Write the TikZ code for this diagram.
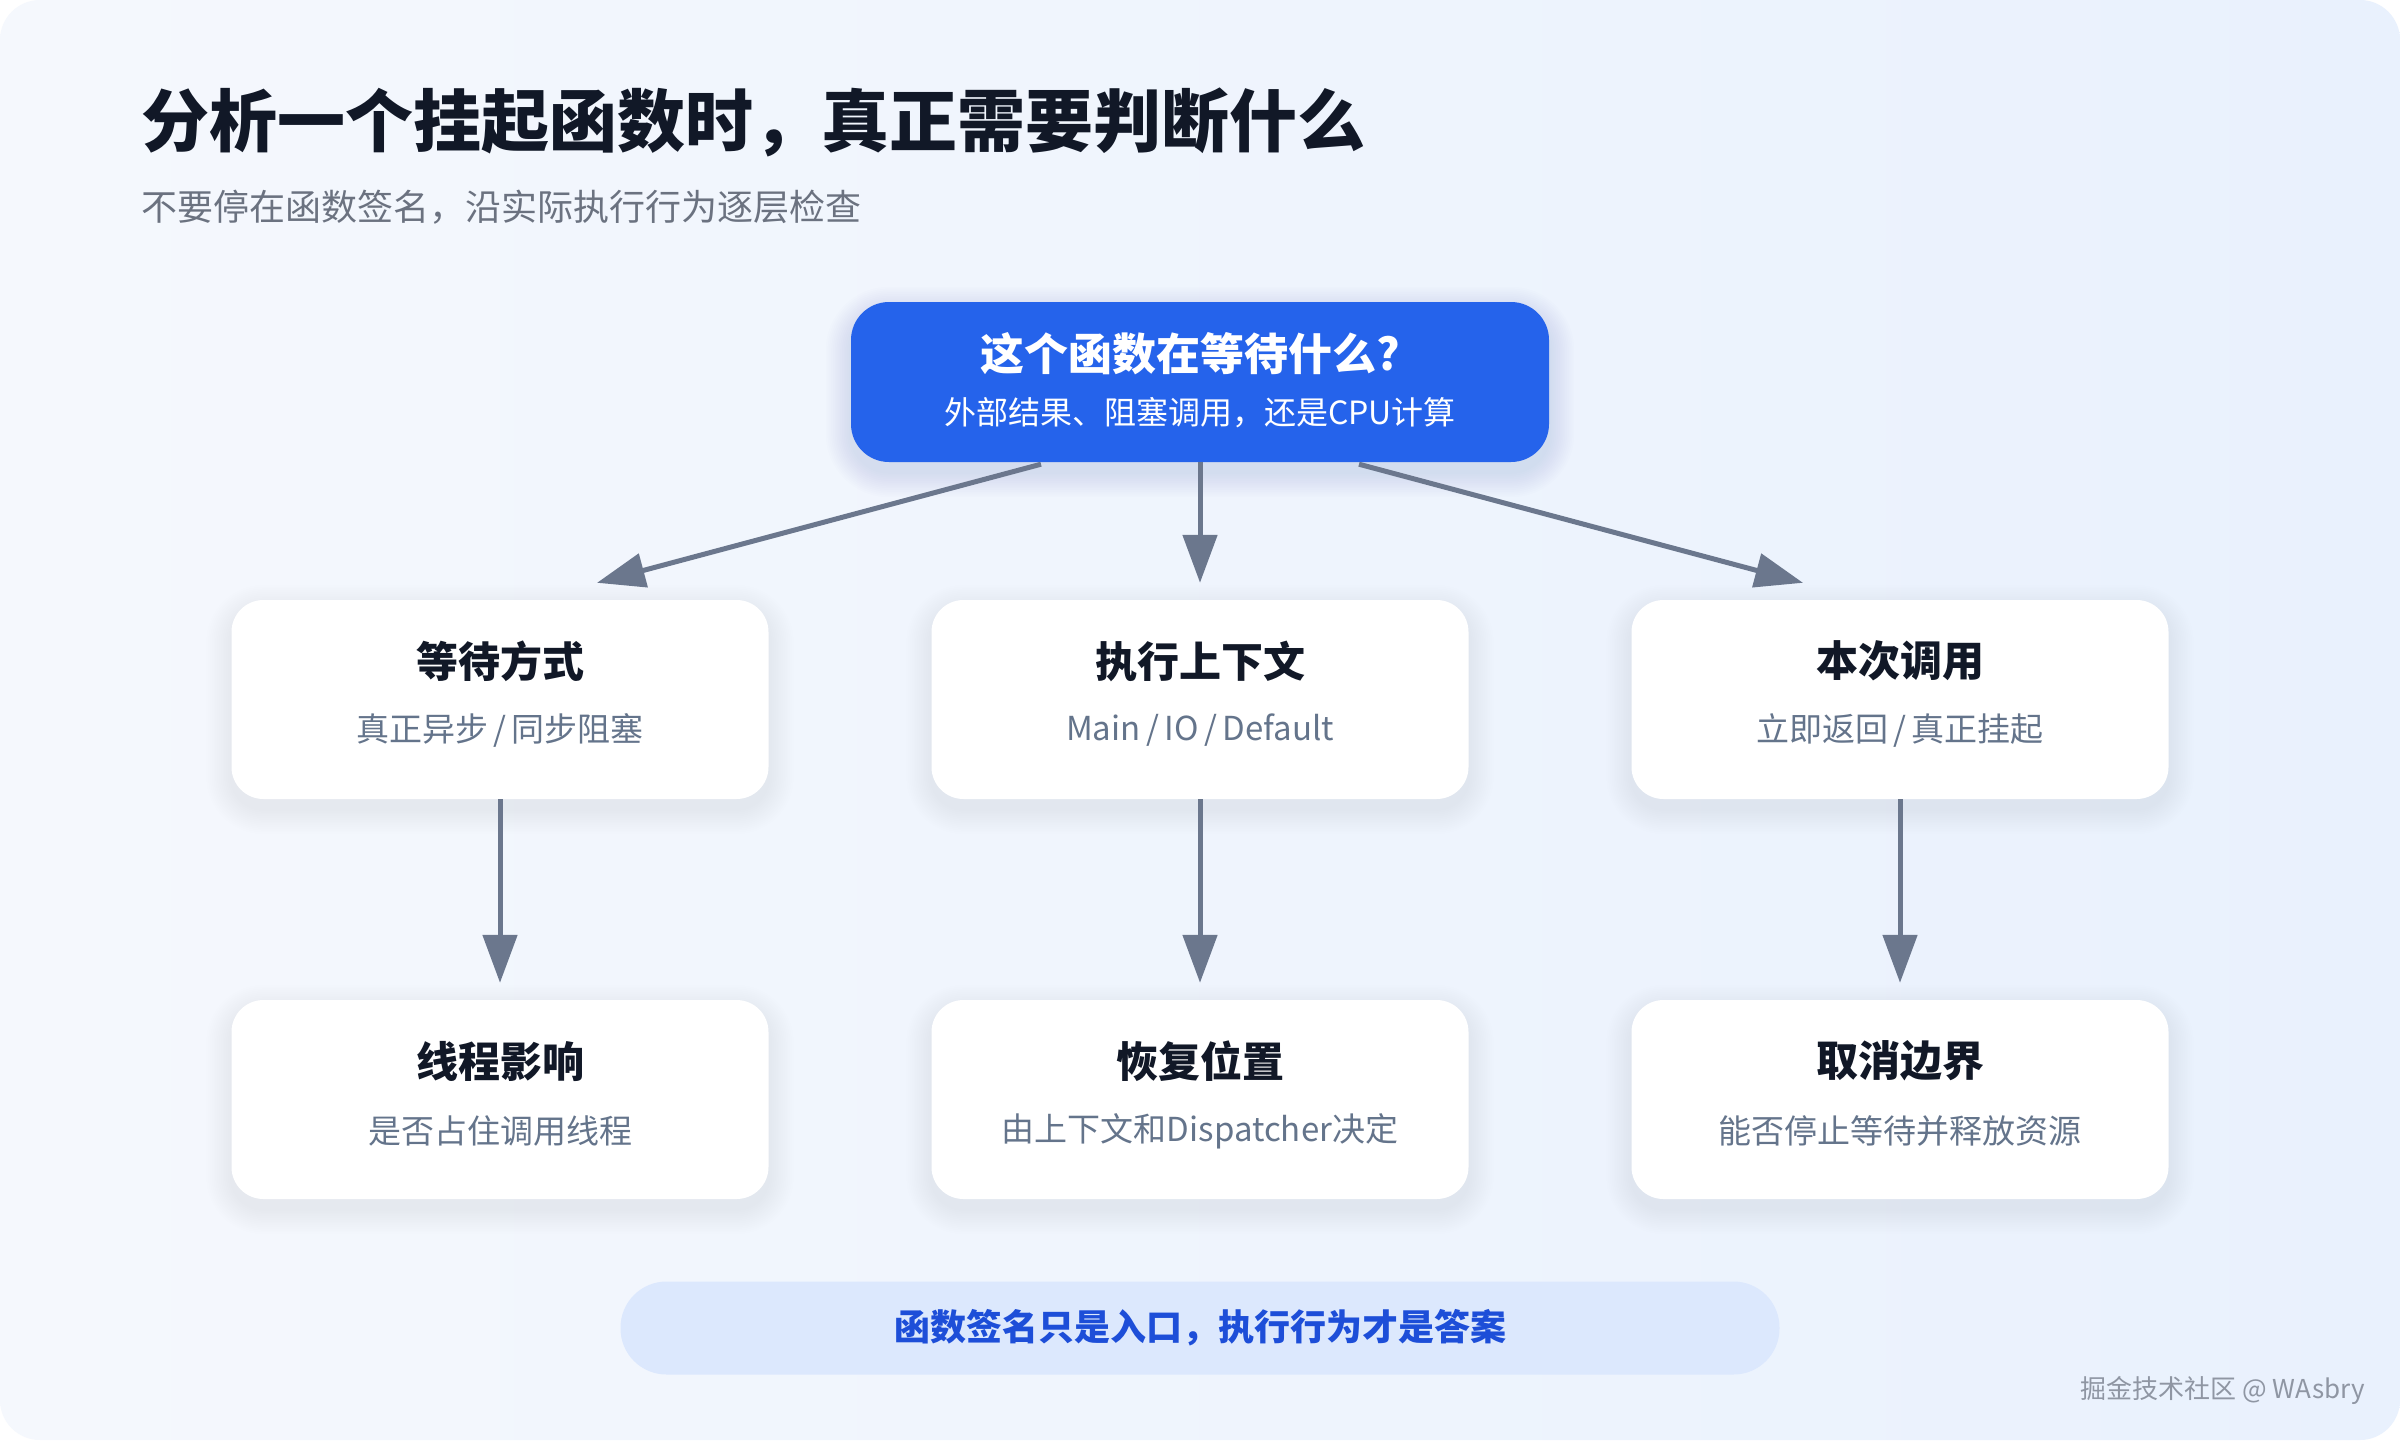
\documentclass[tikz,border=0pt]{standalone}
\usepackage{fontspec}
\setmainfont{Noto Sans CJK SC}
\usetikzlibrary{calc,arrows.meta}
\definecolor{bgA}{HTML}{F5F8FD}
\definecolor{bgB}{HTML}{E9F1FD}
\definecolor{blueMain}{HTML}{2563EB}
\definecolor{titleInk}{HTML}{111827}
\definecolor{subInk}{HTML}{6B7280}
\definecolor{boxSub}{HTML}{64748B}
\definecolor{arrowInk}{HTML}{6B778D}
\definecolor{bannerFill}{HTML}{DCE8FD}
\definecolor{bannerInk}{HTML}{1D4ED8}
\definecolor{markInk}{HTML}{8F96A3}
\definecolor{shadowInk}{HTML}{4A6390}
% soft shadow: centre x, centre y, width, height, radius, opacity per layer
\newcommand\mysoftshadow[6]{%
  \foreach \k in {1,...,14}{%
    \pgfmathsetmacro\rr{#5+\k*1.8}%
    \pgfmathsetmacro\dd{\k*1.8}%
    \fill[shadowInk, opacity=#6, rounded corners=\rr pt]
      ({#1-#3/2-\dd},{#2-#4/2-\dd+10}) rectangle ({#1+#3/2+\dd},{#2+#4/2+\dd+10});
  }}
\begin{document}
\begin{tikzpicture}[x=1pt,y=-1pt,
  card/.style={fill=white, rounded corners=32pt, minimum width=537pt, minimum height=199pt, inner sep=0pt},
  topbox/.style={fill=blueMain, rounded corners=38pt, minimum width=698pt, minimum height=160pt, inner sep=0pt},
  cardtitle/.style={inner sep=0pt, text=titleInk, font=\bfseries\fontsize{42pt}{50pt}\selectfont},
  cardsub/.style={inner sep=0pt, text=boxSub, font=\fontsize{33pt}{38pt}\selectfont},
  flow/.style={draw=arrowInk, line width=5pt, -{Triangle[length=48pt,width=34pt]}},
]
\useasboundingbox (0,0) rectangle (2400,1440);
\fill[white] (0,0) rectangle (2400,1440);
\shade[rounded corners=40pt, left color=bgA, right color=bgB] (0,0) rectangle (2400,1440);

% shadows
\mysoftshadow{1200}{382}{698}{160}{38}{0.009}
\mysoftshadow{500}{699.5}{537}{199}{32}{0.005}
\mysoftshadow{1200}{699.5}{537}{199}{32}{0.005}
\mysoftshadow{1900}{699.5}{537}{199}{32}{0.005}
\mysoftshadow{500}{1099.5}{537}{199}{32}{0.005}
\mysoftshadow{1200}{1099.5}{537}{199}{32}{0.005}
\mysoftshadow{1900}{1099.5}{537}{199}{32}{0.005}

% heading
\node[anchor=west, inner sep=0pt, text=titleInk, font=\bfseries\fontsize{68pt}{80pt}\selectfont] (title) at (141,122) {分析一个挂起函数时，真正需要判断什么};
\node[anchor=west, inner sep=0pt, text=subInk, font=\fontsize{36pt}{42pt}\selectfont] (subtitle) at (141,207) {不要停在函数签名，沿实际执行行为逐层检查};

% top question
\node[topbox] (q) at (1200,382) {};
\node[inner sep=0pt, text=white, font=\bfseries\fontsize{44pt}{52pt}\selectfont] (qt) at (1190,354) {这个函数在等待什么?};
\node[inner sep=0pt, text=white, font=\fontsize{32pt}{38pt}\selectfont] (qs) at (1200,413) {外部结果、阻塞调用，还是CPU计算};

% middle row
\node[card] (wait) at (500,699.5) {};
\node[cardtitle] (waitT) at (500,661) {等待方式};
\node[cardsub] (waitS) at (500,730) {真正异步\,/\,同步阻塞};

\node[card] (ctx) at (1200,699.5) {};
\node[cardtitle] (ctxT) at (1200,661) {执行上下文};
\node[cardsub] (ctxS) at (1200,730) {Main\,/\,IO\,/\,Default};

\node[card] (call) at (1900,699.5) {};
\node[cardtitle] (callT) at (1900,661) {本次调用};
\node[cardsub] (callS) at (1900,730) {立即返回\,/\,真正挂起};

% bottom row
\node[card] (thr) at (500,1099.5) {};
\node[cardtitle] (thrT) at (500,1061) {线程影响};
\node[cardsub] (thrS) at (500,1131) {是否占住调用线程};

\node[card] (res) at (1200,1099.5) {};
\node[cardtitle] (resT) at (1200,1061) {恢复位置};
\node[cardsub] (resS) at (1200,1131) {由上下文和Dispatcher决定};

\node[card] (can) at (1900,1099.5) {};
\node[cardtitle] (canT) at (1900,1061) {取消边界};
\node[cardsub] (canS) at (1900,1131) {能否停止等待并释放资源};

% arrow endpoints
\coordinate (tipL) at ($(wait.north)+(97,-17)$);
\coordinate (tipM) at ($(ctx.north)+(0,-17)$);
\coordinate (tipR) at ($(call.north)+(-97,-17)$);
\coordinate (tipL2) at ($(thr.north)+(0,-17)$);
\coordinate (tipM2) at ($(res.north)+(0,-17)$);
\coordinate (tipR2) at ($(can.north)+(0,-17)$);

\draw[flow] ($(q.south)+(-159,2)$) -- (tipL);
\draw[flow] (q.south) -- (tipM);
\draw[flow] ($(q.south)+(159,2)$) -- (tipR);
\draw[flow] (wait.south) -- (tipL2);
\draw[flow] (ctx.south) -- (tipM2);
\draw[flow] (call.south) -- (tipR2);

% banner
\node[fill=bannerFill, rounded corners=46pt, minimum width=1159pt, minimum height=93pt, inner sep=0pt] (banner) at (1200,1328) {};
\node[inner sep=0pt, text=bannerInk, font=\bfseries\fontsize{36pt}{42pt}\selectfont] (bannerT) at (1200,1328) {函数签名只是入口，执行行为才是答案};

% watermark
\node[anchor=east, inner sep=0pt, text=markInk, font=\fontsize{26pt}{30pt}\selectfont] (mark) at (2365,1390) {掘金技术社区 @ WAsbry};
\end{tikzpicture}
\end{document}
